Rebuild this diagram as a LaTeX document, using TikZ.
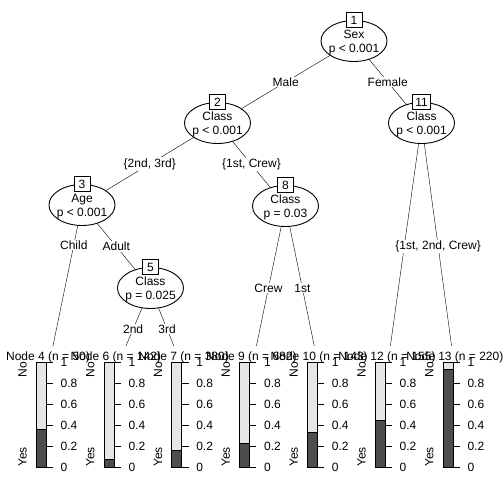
\documentclass[tikz,border=0pt]{standalone}
\usepackage{fontspec}
\setmainfont{Liberation Sans}
\usetikzlibrary{shapes.geometric,backgrounds}
\definecolor{bardark}{HTML}{4D4D4D}
\definecolor{barlight}{HTML}{E6E6E6}
\newcommand{\ntxt}[2]{\makebox[0pt]{\raisebox{-4.3pt}[0pt][0pt]{\begin{tabular}{@{}c@{}}#1\\#2\end{tabular}}}}
\newcommand{\tpanel}[4]{%
  \draw[fill=barlight] ({#1-12},362) rectangle ({#1-2},467);
  \draw[fill=bardark] ({#1-12},{467-105*#2}) rectangle ({#1-2},467);
  \foreach \v/\t in {0/0,0.2/0.2,0.4/0.4,0.6/0.6,0.8/0.8,1/1} {
    \draw ({#1-2},{467-105*\v}) -- ({#1+5},{467-105*\v});
    \node[anchor=west,inner sep=0pt] at ({#1+12.5},{467-105*\v}) {\t};
  }
  \node[rotate=90,anchor=west,inner sep=0pt] (yes#3) at ({#1-25.5},467) {Yes};
  \node[rotate=90,anchor=east,inner sep=0pt] (no#3) at ({#1-25.5},362) {No};
  \node[anchor=base,inner sep=0pt] (lab#3) at (#1,360) {Node #3 (n = #4)};
}
\tikzset{
  splitnode/.style={ellipse, draw, fill=white, minimum width=66pt, minimum height=41pt, inner sep=0pt},
  numbox/.style={draw, fill=white, inner xsep=3pt, inner ysep=0pt, minimum width=16pt, minimum height=14.5pt},
  elabel/.style={fill=white, inner sep=1pt}
}
\begin{document}
\begin{tikzpicture}[x=1pt,y=-1pt,line width=0.9pt,font=\fontsize{12}{14}\selectfont]
\useasboundingbox (0,0) rectangle (504,504);

% inner nodes
\node[splitnode] (n1) at (354,41) {\ntxt{Sex}{p < 0.001}};
\node[splitnode] (n2) at (217.5,123) {\ntxt{Class}{p < 0.001}};
\node[splitnode] (n11) at (421.5,123) {\ntxt{Class}{p < 0.001}};
\node[splitnode] (n3) at (82,205) {\ntxt{Age}{p < 0.001}};
\node[splitnode] (n8) at (285.5,206) {\ntxt{Class}{p = 0.03}};
\node[splitnode] (n5) at (150.5,288) {\ntxt{Class}{p = 0.025}};

\node[numbox] (b1) at (354,20) {1};
\node[numbox] (b2) at (217.5,102) {2};
\node[numbox] (b11) at (421.5,102) {11};
\node[numbox] (b3) at (82,184) {3};
\node[numbox] (b8) at (285.5,185) {8};
\node[numbox] (b5) at (150.5,267) {5};

% terminal anchors
\coordinate (t4) at (48,370);
\coordinate (t6) at (115.8,370);
\coordinate (t7) at (183.6,370);
\coordinate (t9) at (251.4,370);
\coordinate (t10) at (319.2,370);
\coordinate (t12) at (387,370);
\coordinate (t13) at (454.8,370);

\begin{pgfonlayer}{background}
  \fill[white] (0,0) rectangle (504,504);
  \draw (n1.center) -- (n2.center);
  \draw (n1.center) -- (n11.center);
  \draw (n2.center) -- (n3.center);
  \draw (n2.center) -- (n8.center);
  \draw (n3.center) -- (t4);
  \draw (n3.center) -- (n5.center);
  \draw (n5.center) -- (t6);
  \draw (n5.center) -- (t7);
  \draw (n8.center) -- (t9);
  \draw (n8.center) -- (t10);
  \draw (n11.center) -- (t12);
  \draw (n11.center) -- (t13);
  \fill[white] (0,346) rectangle (504,504);
\end{pgfonlayer}

% edge labels
\path (n1.center) -- (n2.center) node[elabel,pos=0.5] (e12) {Male};
\path (n1.center) -- (n11.center) node[elabel,pos=0.5] (e111) {Female};
\path (n2.center) -- (n3.center) node[elabel,pos=0.5] (e23) {\{2nd, 3rd\}};
\path (n2.center) -- (n8.center) node[elabel,pos=0.5] (e28) {\{1st, Crew\}};
\path (n3.center) -- (t4) node[elabel,pos=0.242] (e34) {Child};
\path (n3.center) -- (n5.center) node[elabel,pos=0.5] (e35) {Adult};
\path (n5.center) -- (t6) node[elabel,pos=0.5] (e56) {2nd};
\path (n5.center) -- (t7) node[elabel,pos=0.5] (e57) {3rd};
\path (n8.center) -- (t9) node[elabel,pos=0.5] (e89) {Crew};
\path (n8.center) -- (t10) node[elabel,pos=0.5] (e810) {1st};
\path (n11.center) -- (t13) node[elabel,pos=0.5] (e1113) {\{1st, 2nd, Crew\}};

% terminal panels
\tpanel{48}{0.36}{4}{50}
\tpanel{115.8}{0.076}{6}{142}
\tpanel{183.6}{0.16}{7}{380}
\tpanel{251.4}{0.225}{9}{682}
\tpanel{319.2}{0.33}{10}{143}
\tpanel{387}{0.45}{12}{155}
\tpanel{454.8}{0.93}{13}{220}
\end{tikzpicture}
\end{document}
